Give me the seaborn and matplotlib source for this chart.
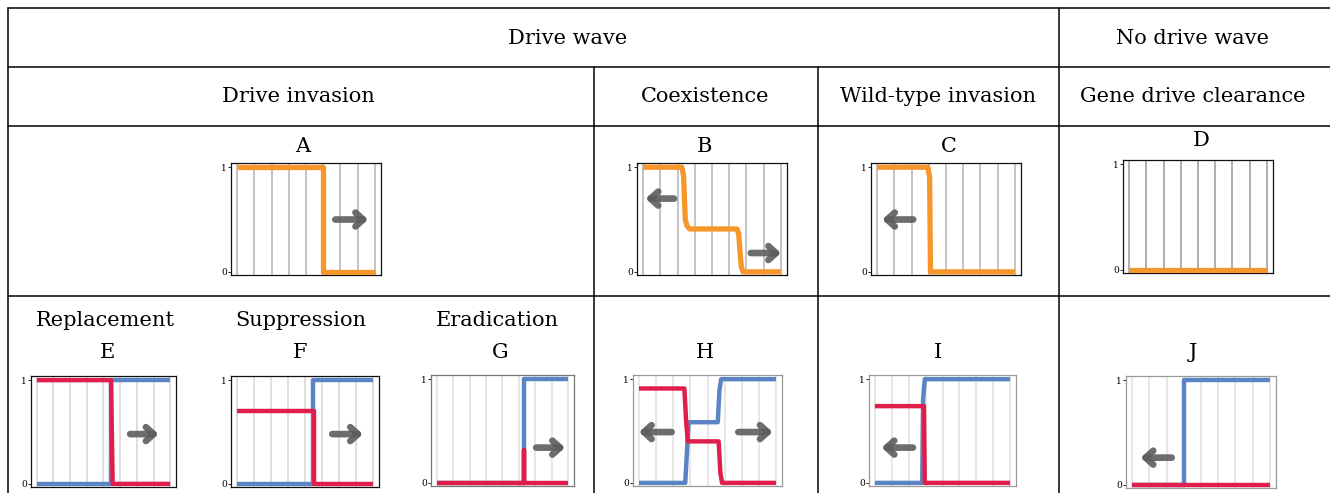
import matplotlib
matplotlib.use("Agg")
import matplotlib.pyplot as plt
import seaborn as sns
import pandas as pd

# ---- header texts -------------------------------------------------------
top_headers = ["Drive wave", "No drive wave"]
mid_headers = ["Drive invasion", "Coexistence", "Wild-type invasion", "Gene drive clearance"]
sub_headers = ["Replacement", "Suppression", "Eradication"]
panel_letters = ["A", "B", "C", "D", "E", "F", "G", "H", "I", "J"]
ytick_vals = [0, 1]
grid_positions = list(range(9))

# ---- drive frequency profiles (top row, orange) --------------------------
A_x = [0, 5.0, 5.0, 8]
A_y = [1, 1, 0, 0]
B_x = [0, 2.25, 2.35, 2.45, 2.55, 2.7, 5.45, 5.55, 5.62, 5.7, 5.8, 8]
B_y = [1, 1, 0.92, 0.5, 0.44, 0.41, 0.41, 0.36, 0.2, 0.05, 0, 0]
C_x = [0, 2.95, 3.05, 3.1, 8]
C_y = [1, 1, 0.9, 0, 0]
D_x = [0, 8]
D_y = [0, 0]

# ---- wild-type (blue) and drive (red) profiles, bottom row ---------------
E_blue_x = [0, 4.45, 4.45, 8]
E_blue_y = [0, 0, 1, 1]
E_red_x = [0, 4.45, 4.55, 8]
E_red_y = [1, 1, 0, 0]

F_blue_x = [0, 4.45, 4.45, 8]
F_blue_y = [0, 0, 1, 1]
F_red_x = [0, 4.5, 4.5, 8]
F_red_y = [0.70, 0.70, 0, 0]

G_blue_x = [0, 5.3, 5.3, 8]
G_blue_y = [0, 0, 1, 1]
G_red_x = [0, 5.3, 5.3, 5.3, 8]
G_red_y = [0, 0, 0.32, 0, 0]

H_blue_x = [0, 2.7, 2.8, 2.9, 4.6, 4.7, 4.8, 8]
H_blue_y = [0, 0, 0.3, 0.585, 0.585, 0.9, 1, 1]
H_red_x = [0, 2.65, 2.75, 2.85, 4.65, 4.75, 4.85, 8]
H_red_y = [0.91, 0.91, 0.6, 0.40, 0.40, 0.1, 0, 0]

I_blue_x = [0, 2.8, 2.85, 2.95, 8]
I_blue_y = [0, 0, 0.8, 1, 1]
I_red_x = [0, 2.9, 2.95, 8]
I_red_y = [0.74, 0.74, 0, 0]

J_blue_x = [0, 3.0, 3.0, 8]
J_blue_y = [0, 0, 1, 1]
J_red_x = [0, 8]
J_red_y = [0, 0]

# ---- wave direction arrows: (tail x, tail y, head x, head y) -------------
A_arrows = [(5.7, 0.5, 7.6, 0.5)]
B_arrows = [(1.8, 0.70, 0.15, 0.70), (6.25, 0.18, 8.0, 0.18)]
C_arrows = [(2.1, 0.5, 0.3, 0.5)]
D_arrows = []
E_arrows = [(5.6, 0.48, 7.3, 0.48)]
F_arrows = [(5.6, 0.48, 7.4, 0.48)]
G_arrows = [(6.05, 0.34, 7.8, 0.34)]
H_arrows = [(1.9, 0.49, 0.0, 0.49), (5.8, 0.49, 7.8, 0.49)]
I_arrows = [(2.25, 0.34, 0.4, 0.34)]
J_arrows = [(2.3, 0.26, 0.5, 0.26)]

ORANGE = "#F7962B"
BLUE = "#5B84C4"
RED = "#E01E4B"
ARROW = "#5c5d5f"

sns.set_style("white")
plt.rcParams["font.family"] = ["DejaVu Serif"]
plt.rcParams["text.color"] = "black"
plt.rcParams["ytick.color"] = "black"

W, H = 1330, 493
fig = plt.figure(figsize=(W / 100, H / 100), dpi=100)

# ---- table frame ----------------------------------------------------------
frame = fig.add_axes([0, 0, 1, 1])
frame.set_xlim(0, W)
frame.set_ylim(H, 0)
frame.axis("off")
lk = dict(color="black", lw=1.1)
frame.plot([8, W], [8, 8], **lk)
frame.plot([8, W], [67, 67], **lk)
frame.plot([8, W], [126, 126], **lk)
frame.plot([8, W], [296, 296], **lk)
frame.plot([8, 8], [8, H], **lk)
frame.plot([1059, 1059], [8, H], **lk)
frame.plot([594, 594], [67, H], **lk)
frame.plot([818, 818], [67, H], **lk)

fs = 15
frame.text(568, 38, top_headers[0], ha="center", va="center", fontsize=fs)
frame.text(1193, 38, top_headers[1], ha="center", va="center", fontsize=fs)
for cx, t in zip([298, 705, 938, 1193], mid_headers):
    frame.text(cx, 97, t, ha="center", va="center", fontsize=fs)
for cx, t in zip([105, 301, 497], sub_headers):
    frame.text(cx, 320, t, ha="center", va="center", fontsize=fs)
letter_pos = [(303, 146), (704, 146), (949, 146), (1201, 141),
              (107, 352), (300, 352), (500, 352), (705, 352), (938, 352), (1193, 352)]
for (cx, cy), t in zip(letter_pos, panel_letters):
    frame.text(cx, cy, t, ha="center", va="center", fontsize=fs)


def add_panel(box, series, arrows, grid_col, frame_col):
    l, t, r, b = box
    ax = fig.add_axes([l / W, 1 - b / H, (r - l) / W, (b - t) / H])
    for xs, ys, col, lw in series:
        df = pd.DataFrame({"x": xs, "y": ys})
        sns.lineplot(data=df, x="x", y="y", ax=ax, color=col, lw=lw,
                     sort=False, estimator=None, solid_joinstyle="round",
                     solid_capstyle="butt", zorder=3)
    for tx, ty, hx, hy in arrows:
        ax.annotate("", xy=(hx, hy), xytext=(tx, ty),
                    arrowprops=dict(arrowstyle="->,head_length=0.55,head_width=0.5",
                                    lw=4.8, color=ARROW, alpha=0.9,
                                    capstyle="round", joinstyle="round",
                                    shrinkA=0, shrinkB=0, mutation_scale=10),
                    zorder=4)
    ax.set_xlim(-0.35, 8.35)
    ax.set_ylim(-0.03, 1.04)
    ax.set_xticks(grid_positions)
    ax.set_yticks(ytick_vals)
    ax.set_yticklabels([str(v) for v in ytick_vals])
    ax.grid(axis="x", color=grid_col, lw=1.1)
    ax.grid(axis="y", visible=False)
    ax.tick_params(axis="x", length=0, labelbottom=False)
    ax.tick_params(axis="y", length=2, width=0.6, pad=1, labelsize=6.5,
                   color="black", labelcolor="black", left=True)
    ax.set_xlabel("")
    ax.set_ylabel("")
    for s in ax.spines.values():
        s.set_visible(True)
        s.set_color(frame_col)
        s.set_linewidth(0.9)
    return ax


top_grid, top_frame = "#b4b4b4", "#111111"
bot_grid = "#d6d6d6"
lw_o, lw_rb = 3.8, 3.2

add_panel((231, 163, 381, 275), [(A_x, A_y, ORANGE, lw_o)], A_arrows, top_grid, top_frame)
add_panel((637, 163, 787, 275), [(B_x, B_y, ORANGE, lw_o)], B_arrows, top_grid, top_frame)
add_panel((871, 163, 1021, 275), [(C_x, C_y, ORANGE, lw_o)], C_arrows, top_grid, top_frame)
add_panel((1123, 160, 1273, 273), [(D_x, D_y, ORANGE, lw_o)], D_arrows, "#9a9a9a", top_frame)

add_panel((31, 376, 176, 487), [(E_blue_x, E_blue_y, BLUE, lw_rb), (E_red_x, E_red_y, RED, lw_rb)],
          E_arrows, bot_grid, top_frame)
add_panel((231, 376, 379, 487), [(F_blue_x, F_blue_y, BLUE, lw_rb), (F_red_x, F_red_y, RED, lw_rb)],
          F_arrows, bot_grid, top_frame)
add_panel((431, 375, 574, 486), [(G_blue_x, G_blue_y, BLUE, lw_rb), (G_red_x, G_red_y, RED, lw_rb)],
          G_arrows, "#e0e0e0", "#777777")
add_panel((633, 375, 782, 486), [(H_blue_x, H_blue_y, BLUE, lw_rb), (H_red_x, H_red_y, RED, lw_rb)],
          H_arrows, "#e0e0e0", "#999999")
add_panel((869, 375, 1016, 486), [(I_blue_x, I_blue_y, BLUE, lw_rb), (I_red_x, I_red_y, RED, lw_rb)],
          I_arrows, "#e0e0e0", "#999999")
add_panel((1126, 376, 1276, 488), [(J_blue_x, J_blue_y, BLUE, lw_rb), (J_red_x, J_red_y, RED, lw_rb)],
          J_arrows, "#e0e0e0", "#999999")

fig.savefig("out.png", dpi=100)
